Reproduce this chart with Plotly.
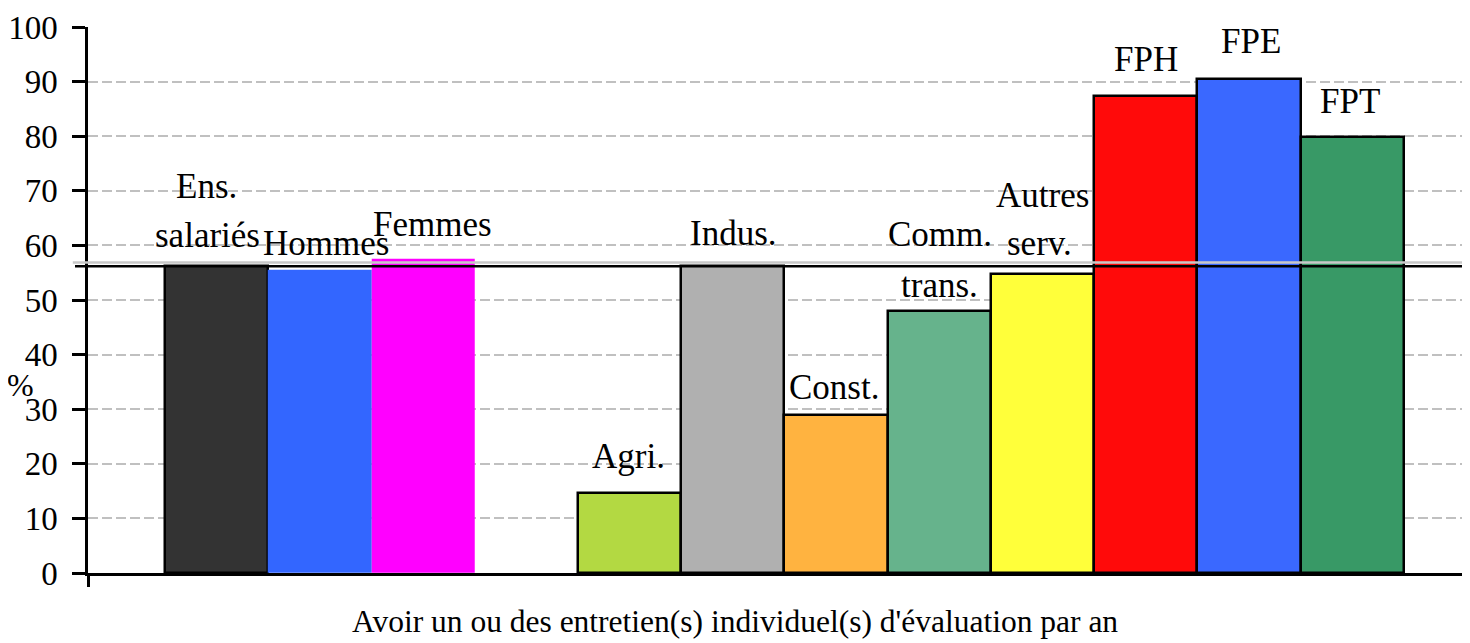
import plotly.graph_objects as go

# ---- data ----
categories = ["Ens. salariés", "Hommes", "Femmes", "Agri.", "Indus.", "Const.",
              "Comm. trans.", "Autres serv.", "FPH", "FPE", "FPT"]
values = [56.2, 55.5, 57.5, 14.7, 56.2, 29.0, 48.0, 54.7, 87.3, 90.5, 79.8]
reference_value = 56.2          # ensemble des salariés
y_tick_values = [0, 10, 20, 30, 40, 50, 60, 70, 80, 90, 100]
x_title = "Avoir un ou des entretien(s) individuel(s) d'évaluation par an"
y_title = "%"

# label lines drawn above each bar (text split over lines)
label_lines = [["Ens.", "salariés"], ["Hommes"], ["Femmes"], ["Agri."], ["Indus."],
               ["Const."], ["Comm.", "trans."], ["Autres", "serv."], ["FPH"], ["FPE"], ["FPT"]]

# ---- styles / layout positions ----
colors = ["#333333", "#3366FF", "#FF00FF", "#B3D942", "#B0B0B0", "#FFB340",
          "#66B38C", "#FFFF3A", "#FF0A0A", "#3A68FF", "#389966"]
outlined = [True, False, False, True, True, True, True, True, True, True, True]
# per-line label anchor (x offset from bar centre in bar units, y in axis units)
label_pos = [[(-0.10, 70.7), (-0.09, 61.9)], [(0.06, 60.4)], [(0.09, 63.9)], [(-0.01, 21.4)],
             [(0.01, 62.2)], [(-0.02, 34.0)], [(0.01, 62.0), (0.0, 52.7)],
             [(0.0, 69.2), (-0.03, 60.4)], [(0.0, 94.0)], [(0.02, 97.3)], [(-0.02, 86.3)]]

GAP = " "
cat_order = categories[:3] + [GAP] + categories[3:]
FONT = "Liberation Serif, Times New Roman, serif"

fig = go.Figure()
fig.add_trace(go.Bar(
    x=categories, y=values,
    marker=dict(color=colors,
                line=dict(color=["black" if o else "rgba(0,0,0,0)" for o in outlined], width=2.5)),
    width=1.0, showlegend=False, hoverinfo="x+y",
))

annotations = []
for cat, lines, poss in zip(categories, label_lines, label_pos):
    idx = cat_order.index(cat)
    for line, (dx, yy) in zip(lines, poss):
        annotations.append(dict(x=idx + dx, y=yy, xref="x", yref="y", text=line,
                                showarrow=False, xanchor="center", yanchor="middle",
                                font=dict(family=FONT, size=35, color="black")))

annotations.append(dict(x=0.468, y=-0.123, xref="paper", yref="paper", text=x_title,
                        showarrow=False, xanchor="center", yanchor="bottom", borderpad=0,
                        font=dict(family=FONT, size=31.5, color="black")))
annotations.append(dict(x=-0.049, y=0.345, xref="paper", yref="y domain", text=y_title,
                        showarrow=False, xanchor="center", yanchor="middle", borderpad=0,
                        font=dict(family=FONT, size=32, color="black")))

x_min, x_max = -1.246, 12.14
shapes = [
    dict(type="line", xref="paper", yref="y", x0=-0.011, x1=1, y0=reference_value + 0.65,
         y1=reference_value + 0.65, line=dict(color="#C8C8C8", width=2.5), layer="above"),
    dict(type="line", xref="paper", yref="y", x0=-0.0094, x1=1, y0=reference_value,
         y1=reference_value, line=dict(color="black", width=2.5), layer="above"),
]

fig.update_layout(
    width=1470, height=643,
    # the page body adds an 8px offset; margins compensate so the plot lands where it should
    margin=dict(l=80, r=8, t=19, b=78),
    paper_bgcolor="white", plot_bgcolor="white",
    bargap=0,
    annotations=annotations,
    shapes=shapes,
    xaxis=dict(type="category", categoryorder="array", categoryarray=cat_order,
               range=[x_min, x_max], showticklabels=False, automargin=False,
               tickvals=[x_min], ticktext=[""], ticks="outside", ticklen=11, tickwidth=2.5,
               tickcolor="black",
               showline=True, linecolor="black", linewidth=2.5, showgrid=False, zeroline=False),
    yaxis=dict(range=[0, 100], tickvals=y_tick_values, ticks="outside", ticklen=13, tickwidth=2.5,
               tickcolor="black", showline=True, linecolor="black", linewidth=2.5,
               showgrid=True, gridcolor="#C0C0C0", gridwidth=2, griddash="10px,4px",
               zeroline=False, ticklabelstandoff=8, automargin=False,
               tickfont=dict(family=FONT, size=33, color="black")),
    font=dict(family=FONT, color="black"),
)

fig.write_html("out.html")
